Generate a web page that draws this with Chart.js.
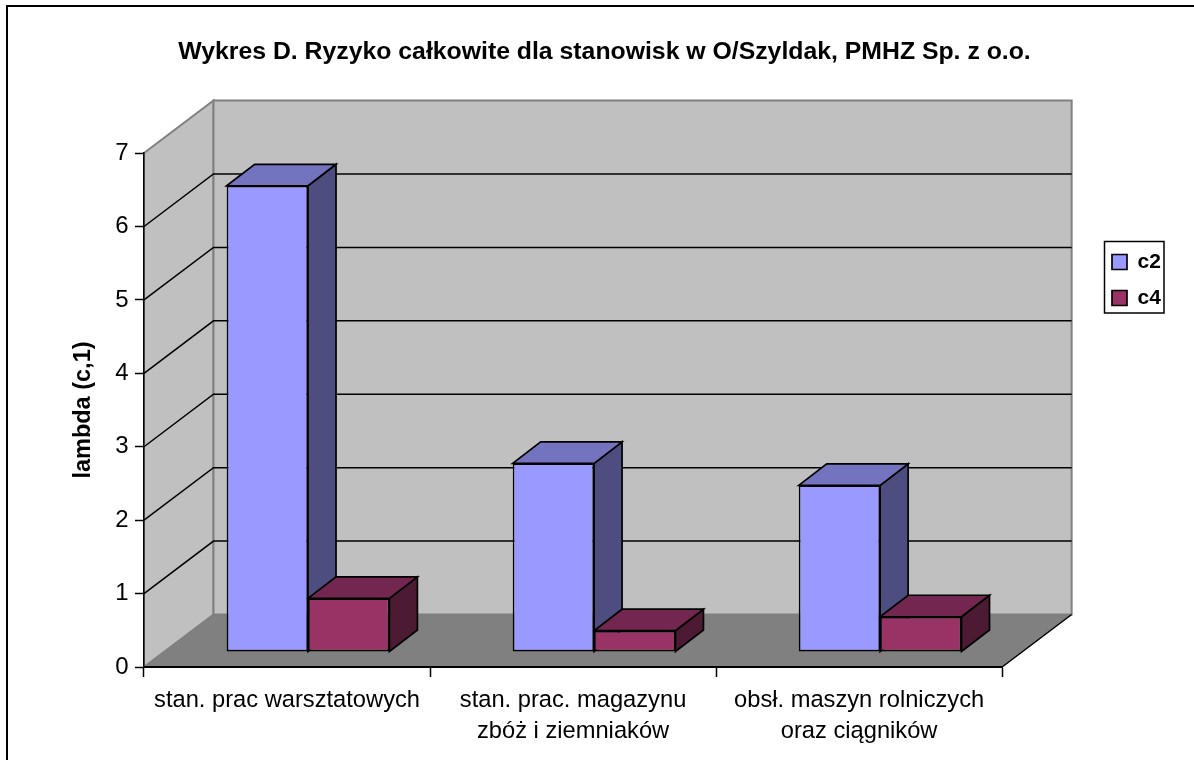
<!DOCTYPE html>
<html>
<head>
<meta charset="utf-8">
<style>
  html, body { margin: 0; padding: 0; background: #fff; }
  canvas { display: block; }
</style>
<script src="https://cdn.jsdelivr.net/npm/chart.js@4/dist/chart.umd.min.js"></script>
</head>
<body>
<canvas id="chart" width="1194" height="760"></canvas>
<script>
const categories = [
  ["stan. prac warsztatowych"],
  ["stan. prac. magazynu", "zbóż i ziemniaków"],
  ["obsł. maszyn rolniczych", "oraz ciągników"],
];
const c2Values = [6.35, 2.57, 2.27];
const c4Values = [0.73, 0.29, 0.48];
const yMax = 7;

const titleText = "Wykres D. Ryzyko całkowite dla stanowisk w O/Szyldak, PMHZ Sp. z o.o.";
const yAxisTitle = "lambda (c,1)";

// 3D projection offsets, in pixels
const WALL_DX = 69.5, WALL_DY = -52.5;
const BAR_DX = 21, BAR_DY = -15;
const DEPTH_DX = 28, DEPTH_DY = -21.5;

function poly(ctx, pts, fill, stroke, lineWidth) {
  ctx.beginPath();
  pts.forEach((p, i) => (i ? ctx.lineTo(p[0], p[1]) : ctx.moveTo(p[0], p[1])));
  ctx.closePath();
  if (fill) {
    ctx.fillStyle = fill;
    ctx.fill();
  }
  if (stroke) {
    ctx.strokeStyle = stroke;
    ctx.lineWidth = lineWidth;
    ctx.stroke();
  }
}

const scene3d = {
  id: "scene3d",
  afterLayout(chart) {
    // title sits right of the canvas centre, legend is hand placed
    chart.titleBlock.left = 0;
    chart.titleBlock.right = 1209;
    chart.legend.left = 1097;
    chart.legend.right = 1194;
    chart.legend.top = 236.5;
    chart.legend.bottom = 340;
  },
  beforeDraw(chart) {
    const { ctx, chartArea: a, scales } = chart;
    ctx.save();
    // outer frame only shows on the top and left
    ctx.fillStyle = "#000";
    ctx.fillRect(6, 5, 1188, 2);
    ctx.fillRect(6, 5, 2, 755);

    const bx = a.left + WALL_DX, by = a.bottom + WALL_DY;
    const rx = a.right + WALL_DX, ty = a.top + WALL_DY;
    // side wall, back wall, floor
    poly(ctx, [[a.left, a.top], [bx, ty], [bx, by], [a.left, a.bottom]], "#c0c0c0", "#808080", 2);
    poly(ctx, [[bx, ty], [rx, ty], [rx, by], [bx, by]], "#c0c0c0", "#808080", 2);
    poly(ctx, [[a.left, a.bottom], [bx, by], [rx, by], [a.right, a.bottom]], "#808080");

    ctx.strokeStyle = "#000";
    ctx.lineWidth = 1.5;
    ctx.beginPath();
    ctx.moveTo(a.right, a.bottom);
    ctx.lineTo(rx, by);
    for (const tick of scales.y.ticks) {
      if (tick.value === 0 || tick.value === yMax) continue;
      const y = scales.y.getPixelForValue(tick.value);
      ctx.moveTo(a.left, y);
      ctx.lineTo(bx, y + WALL_DY);
      ctx.lineTo(rx, y + WALL_DY);
    }
    ctx.stroke();
    ctx.restore();
  },
  beforeDatasetsDraw(chart) {
    const { ctx } = chart;
    ctx.save();
    ctx.translate(BAR_DX, BAR_DY);
    // side and top faces go first, the library then paints the front faces over them
    chart.data.labels.forEach((_, i) => {
      chart.data.datasets.forEach((ds, d) => {
        const bar = chart.getDatasetMeta(d).data[i];
        const l = bar.x - bar.width / 2, r = bar.x + bar.width / 2;
        const t = bar.y, b = bar.base;
        poly(ctx, [[r, t], [r + DEPTH_DX, t + DEPTH_DY], [r + DEPTH_DX, b + DEPTH_DY], [r, b]], ds.sideColor, "#000", 1.7);
        poly(ctx, [[l, t], [l + DEPTH_DX, t + DEPTH_DY], [r + DEPTH_DX, t + DEPTH_DY], [r, t]], ds.topColor, "#000", 1.7);
      });
    });
  },
  afterDatasetsDraw(chart) {
    chart.ctx.restore();
    const { ctx } = chart;
    ctx.save();
    ctx.strokeStyle = "#000";
    ctx.lineWidth = 1.5;
    ctx.strokeRect(1104.5, 241.5, 59.5, 71.5);
    ctx.restore();
  },
};

Chart.defaults.font.family = "'Liberation Sans', Arial, sans-serif";
Chart.defaults.color = "#000";

new Chart(document.getElementById("chart"), {
  type: "bar",
  plugins: [scene3d],
  data: {
    labels: categories,
    datasets: [
      {
        label: "c2",
        data: c2Values,
        backgroundColor: "#9999ff",
        topColor: "#7373bf",
        sideColor: "#4d4d80",
        borderColor: "#000",
        borderWidth: 1.7,
        borderSkipped: false,
        clip: false,
      },
      {
        label: "c4",
        data: c4Values,
        backgroundColor: "#993366",
        topColor: "#732650",
        sideColor: "#4d1a33",
        borderColor: "#000",
        borderWidth: 1.7,
        borderSkipped: false,
        clip: false,
      },
    ],
  },
  options: {
    responsive: false,
    animation: false,
    layout: { padding: { right: 118 } },
    datasets: { bar: { categoryPercentage: 0.569, barPercentage: 1 } },
    plugins: {
      tooltip: { enabled: false },
      title: {
        display: true,
        text: titleText,
        font: { size: 24.8, weight: "bold" },
        padding: { top: 37.1, bottom: 86.2 },
      },
      legend: {
        position: "right",
        align: "start",
        labels: {
          boxWidth: 15,
          boxHeight: 15,
          padding: 15,
          font: { size: 21, weight: "bold" },
        },
      },
    },
    scales: {
      x: {
        afterFit(scale) { scale.height = 93; },
        offset: true,
        grid: { offset: true, drawOnChartArea: false, tickLength: 10, color: "#000", tickWidth: 1.5 },
        border: { color: "#000", width: 2 },
        ticks: { font: { size: 23.7, lineHeight: 1.3 }, padding: 8, maxRotation: 0, autoSkip: false },
      },
      y: {
        afterFit(scale) { scale.width = 144; },
        min: 0,
        max: yMax,
        title: {
          display: true,
          text: yAxisTitle,
          font: { size: 23.5, weight: "bold" },
          padding: { top: 69, bottom: 0 },
        },
        grid: { drawOnChartArea: false, tickLength: 9, color: "#000", tickWidth: 1.5 },
        border: { color: "#000", width: 1.5 },
        ticks: { stepSize: 1, font: { size: 24 }, padding: 6.5 },
      },
    },
  },
});
</script>
</body>
</html>
